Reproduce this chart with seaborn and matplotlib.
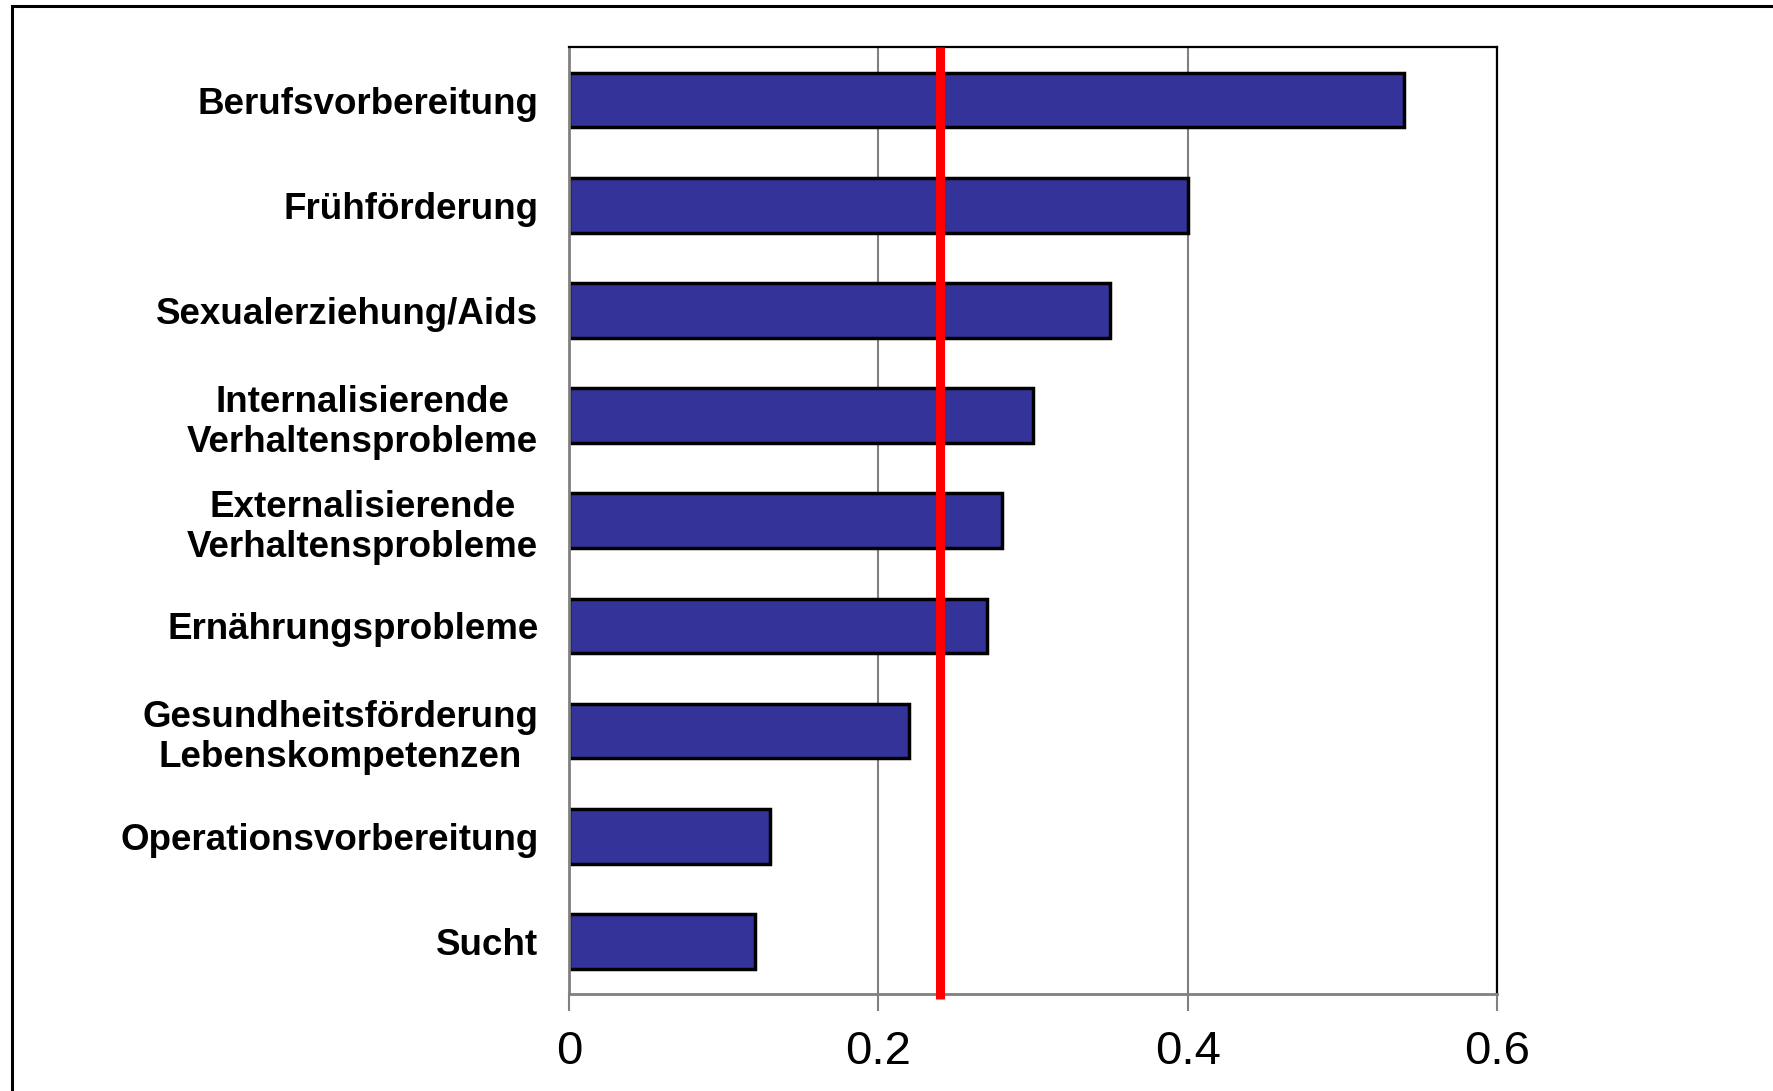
import matplotlib
matplotlib.use("Agg")
import matplotlib.pyplot as plt
from matplotlib.patches import Rectangle
import seaborn as sns
import pandas as pd

# Data
categories = [
    "Berufsvorbereitung",
    "Frühförderung",
    "Sexualerziehung/Aids",
    "Internalisierende\nVerhaltensprobleme",
    "Externalisierende\nVerhaltensprobleme",
    "Ernährungsprobleme",
    "Gesundheitsförderung\nLebenskompetenzen",
    "Operationsvorbereitung",
    "Sucht",
]
values = [0.54, 0.40, 0.35, 0.30, 0.28, 0.27, 0.22, 0.13, 0.12]
reference_value = 0.24
x_ticks = [0, 0.2, 0.4, 0.6]
x_tick_labels = ["0", "0.2", "0.4", "0.6"]

sns.set_theme(style="white")
plt.rcParams["font.family"] = ["Liberation Sans", "DejaVu Sans"]

df = pd.DataFrame({"Kategorie": categories, "Wert": values})

fig = plt.figure(figsize=(17.74, 10.91), dpi=100)
ax = fig.add_axes([0.3207, 0.0889, 0.5231, 0.8676])

sns.barplot(data=df, x="Wert", y="Kategorie", orient="h", ax=ax,
            color="#333399", saturation=1, width=0.52,
            edgecolor="black", linewidth=2.5)

# reference line
ax.axvline(reference_value, color="#ff0000", linewidth=6.5, zorder=5,
           ymin=-0.005, ymax=1, clip_on=False, solid_capstyle="butt")

ax.set_xlim(0, 0.6)
ax.set_ylim(8.5, -0.5)
ax.set_xticks(x_ticks)
ax.set_xticklabels(x_tick_labels)
ax.set_xlabel("")
ax.set_ylabel("")

ax.xaxis.grid(True, color="#808080", linewidth=1.5)
ax.set_axisbelow(True)

for side in ["top", "right"]:
    ax.spines[side].set_visible(True)
    ax.spines[side].set_color("black")
    ax.spines[side].set_linewidth(1.6)
for side in ["left", "bottom"]:
    ax.spines[side].set_color("#808080")
    ax.spines[side].set_linewidth(2)

ax.tick_params(axis="x", bottom=True, direction="out", length=12, width=1.5,
               color="#808080", labelcolor="black", labelsize=34, pad=14)
ax.tick_params(axis="y", left=False, length=0, pad=22, labelcolor="black")
for lbl in ax.get_yticklabels():
    lbl.set_fontsize(26.5)
    lbl.set_fontweight("bold")
    lbl.set_multialignment("center")
    lbl.set_linespacing(1.2)

# outer frame of the slide
fig.patches.append(Rectangle((12 / 1774, -0.05), 1.1, 1 - 6 / 1091 + 0.05,
                             transform=fig.transFigure, fill=False,
                             edgecolor="black", linewidth=2.2))

fig.savefig("out.png", dpi=100)
